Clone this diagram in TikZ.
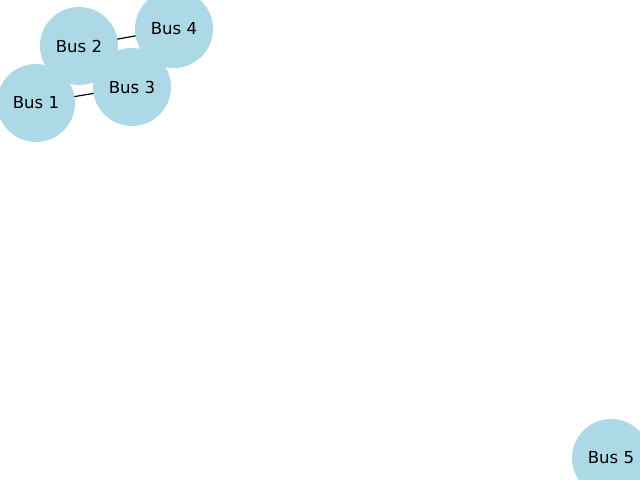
\documentclass[tikz,border=0pt]{standalone}
\usepackage{fontspec}
\setmainfont{DejaVu Sans}
\definecolor{nodeblue}{HTML}{ADD8E6}
\begin{document}
\begin{tikzpicture}[x=1bp,y=-1bp,
  bus/.style={circle,fill=nodeblue,minimum size=78bp,inner sep=0pt,font=\fontsize{16.6}{20}\selectfont},
  link/.style={draw=black,line width=1.2bp}]
\clip (0,0) rectangle (640,480);
\useasboundingbox (0,0) rectangle (640,480);
\fill[white] (0,0) rectangle (640,480);
\coordinate (p1) at (36,103);
\coordinate (p2) at (79,46);
\coordinate (p3) at (132,87);
\coordinate (p4) at (174,29);
\coordinate (p5) at (611,458);
\draw[link] (p1) -- (p3);
\draw[link] (p2) -- (p4);
\node[bus] (b1) at (p1) {Bus 1};
\node[bus] (b2) at (p2) {Bus 2};
\node[bus] (b3) at (p3) {Bus 3};
\node[bus] (b4) at (p4) {Bus 4};
\node[bus] (b5) at (p5) {Bus 5};
\end{tikzpicture}
\end{document}
